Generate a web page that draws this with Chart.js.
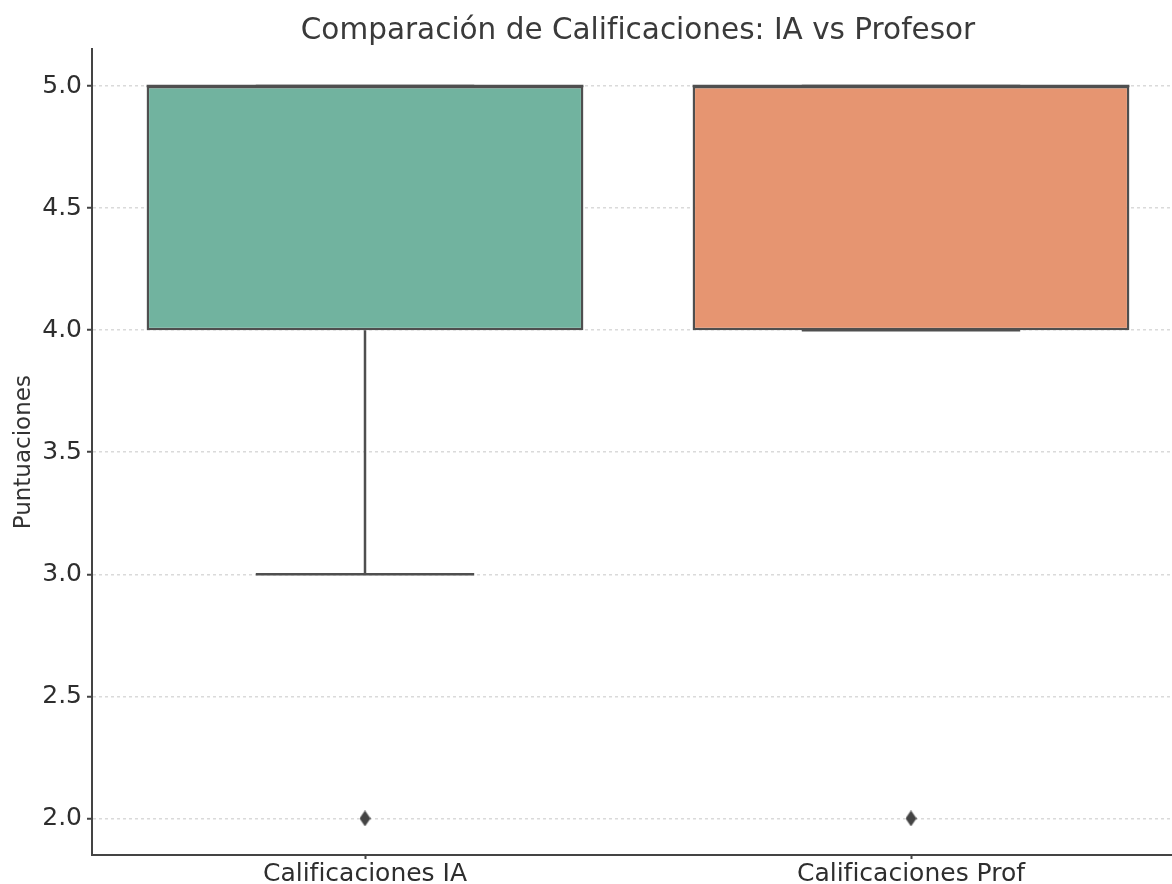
<!DOCTYPE html>
<html lang="es">
<head>
    <meta charset="UTF-8">
    <title>Comparación de Calificaciones</title>
    <script src="https://cdn.jsdelivr.net/npm/chart.js"></script>
    <style>
        html, body { margin: 0; padding: 0; background: #fff; overflow: hidden; }
        #caja { width: 1190px; height: 884px; }
    </style>
</head>
<body>
    <div id="caja"><canvas id="Cajas" width="1190" height="884"></canvas></div>
<script>
    // datos del boxplot
    const categorias = ['Calificaciones IA', 'Calificaciones Prof'];
    const q1 = [4.0, 4.0];
    const q3 = [5.0, 5.0];
    const mediana = [5.0, 5.0];
    const bigoteBajo = [3.0, 4.0];
    const bigoteAlto = [5.0, 5.0];
    const atipicos = [[2.0], [2.0]];
    const ticksY = [2.0, 2.5, 3.0, 3.5, 4.0, 4.5, 5.0];

    const colores = ['#71b39f', '#e69571'];
    const borde = '#4f4f4f';
    const anchoCaja = 0.8;

    // marcador en rombo (como seaborn)
    const rombo = document.createElement('canvas');
    rombo.width = 11; rombo.height = 16;
    const rc = rombo.getContext('2d');
    rc.fillStyle = '#444';
    rc.beginPath();
    rc.moveTo(5.5, 0); rc.lineTo(11, 8); rc.lineTo(5.5, 16); rc.lineTo(0, 8);
    rc.closePath(); rc.fill();

    let datasets = [{
        type: 'bar',
        data: categorias.map((c, i) => [q1[i], q3[i]]),
        backgroundColor: colores,
        borderColor: borde,
        borderWidth: 2.5,
        borderSkipped: false,
        grouped: false,
        barPercentage: anchoCaja,
        categoryPercentage: 1,
        order: 3
    }];

    function linea(puntos) {
        return {
            type: 'line',
            xAxisID: 'x2',
            data: puntos,
            borderColor: borde,
            borderWidth: 2.5,
            pointRadius: 0,
            fill: false,
            order: 1
        };
    }

    for (let i = 0; i < categorias.length; i++) {
        // bigotes
        datasets.push(linea([{ x: i, y: q1[i] }, { x: i, y: bigoteBajo[i] }]));
        datasets.push(linea([{ x: i, y: q3[i] }, { x: i, y: bigoteAlto[i] }]));
        // topes
        datasets.push(linea([{ x: i - anchoCaja / 4, y: bigoteBajo[i] }, { x: i + anchoCaja / 4, y: bigoteBajo[i] }]));
        datasets.push(linea([{ x: i - anchoCaja / 4, y: bigoteAlto[i] }, { x: i + anchoCaja / 4, y: bigoteAlto[i] }]));
        // mediana
        datasets.push(linea([{ x: i - anchoCaja / 2, y: mediana[i] }, { x: i + anchoCaja / 2, y: mediana[i] }]));
        // atipicos
        datasets.push({
            type: 'scatter',
            xAxisID: 'x2',
            data: atipicos[i].map(v => ({ x: i, y: v })),
            pointStyle: rombo,
            order: 0
        });
    }

    const config = {
        data: { labels: categorias, datasets: datasets },
        options: {
            responsive: false,
            animation: false,
            layout: { padding: { left: 0, right: 6, top: 0, bottom: 0 } },
            plugins: {
                legend: { display: false },
                tooltip: { enabled: false },
                title: {
                    display: true,
                    fullSize: false,
                    text: 'Comparación de Calificaciones: IA vs Profesor',
                    color: '#3a3a3a',
                    font: { family: 'DejaVu Sans', size: 29.5, weight: 'normal' },
                    padding: { top: 14, bottom: 0 }
                }
            },
            scales: {
                x: {
                    type: 'category',
                    offset: true,
                    grid: { offset: false, drawOnChartArea: false, tickColor: '#444', tickLength: 4, tickWidth: 2 },
                    border: { color: '#444', width: 2 },
                    ticks: {
                        color: '#2e2e2e',
                        padding: 0,
                        font: { family: 'DejaVu Sans', size: 25 }
                    },
                    afterFit: function (scale) { scale.height = 29; }
                },
                x2: {
                    type: 'linear',
                    display: false,
                    min: -0.5,
                    max: 1.5
                },
                y: {
                    min: 1.85,
                    max: 5.15,
                    afterBuildTicks: function (scale) {
                        scale.ticks = ticksY.map(v => ({ value: v }));
                    },
                    grid: {
                        color: '#dadada',
                        lineWidth: 1.5,
                        tickColor: '#444',
                        tickLength: 5,
                        tickWidth: 2,
                        tickBorderDash: []
                    },
                    border: { color: '#444', width: 2, dash: [3, 3] },
                    ticks: {
                        color: '#2e2e2e',
                        padding: 5,
                        font: { family: 'DejaVu Sans', size: 25 },
                        callback: v => Number(v).toFixed(1)
                    },
                    title: {
                        display: true,
                        text: 'Puntuaciones',
                        color: '#333',
                        font: { family: 'DejaVu Sans', size: 23 },
                        padding: { top: 10, bottom: 0 }
                    },
                    afterFit: function (scale) { scale.width = 92; }
                }
            }
        }
    };

    let miGrafico = new Chart(document.getElementById('Cajas'), config);
</script>
</body>
</html>
